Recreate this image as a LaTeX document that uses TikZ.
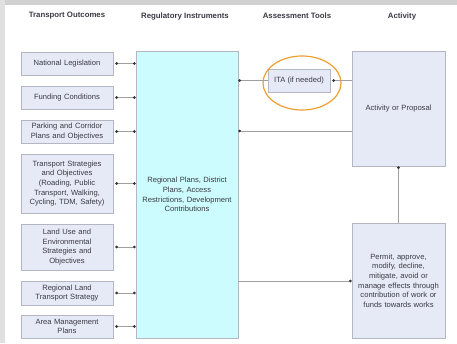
\documentclass[tikz,border=0pt]{standalone}
\usepackage{fontspec}
\setmainfont{Liberation Sans}
\usetikzlibrary{arrows.meta,shapes.geometric}
\definecolor{boxfill}{HTML}{E6EAF6}
\definecolor{boxline}{HTML}{B4B6C2}
\definecolor{regfill}{HTML}{CCFCFD}
\definecolor{txt}{HTML}{3A3A44}
\definecolor{lin}{HTML}{A0A0A0}
\definecolor{orng}{HTML}{F0A030}
\tikzset{
  box/.style={draw=boxline, fill=boxfill, line width=0.8pt, text=txt, align=center,
    font=\fontsize{7.6}{9.6}\selectfont, inner sep=1pt},
  hdr/.style={font=\bfseries\fontsize{7.8}{9}\selectfont, text=txt},
  conn/.style={draw=lin, line width=0.9pt},
  dotb/.style={-{Circle[length=2.6pt,fill=black!80,color=black!80]}},
  dotboth/.style={{Circle[length=2.6pt,fill=black!80,color=black!80]}-{Circle[length=2.6pt,fill=black!80,color=black!80]}},
}
\newcommand{\lbox}[4]{\node[box, minimum width=92pt, minimum height=#3pt, text width=90pt] (#1) at (67,#2) {#4};}
\begin{document}
\begin{tikzpicture}[x=1pt,y=-1pt]
\useasboundingbox (0,0) rectangle (457,343);
\fill[white] (0,0) rectangle (457,343);
\fill[black!18] (0,0) rectangle (457,5);
\fill[black!12] (0,0) rectangle (5,343);
% headers
\node[hdr] (h1) at (67,16) {Transport Outcomes};
\node[hdr] (h2) at (185,16) {Regulatory Instruments};
\node[hdr] (h3) at (297,16) {Assessment Tools};
\node[hdr] (h4) at (402,16) {Activity};
% left boxes
\lbox{n1}{63.5}{23}{National Legislation}
\lbox{n2}{97.5}{23}{Funding Conditions}
\lbox{n3}{131.5}{23}{Parking and Corridor\\Plans and Objectives}
\lbox{n4}{183.5}{59}{Transport Strategies\\and Objectives\\(Roading, Public\\Transport, Walking,\\Cycling, TDM, Safety)}
\lbox{n5}{247}{46}{Land Use and\\Environmental\\Strategies and\\Objectives}
\lbox{n6}{293}{24}{Regional Land\\Transport Strategy}
\lbox{n7}{326.5}{23}{Area Management\\Plans}
% regulatory
\node[box, fill=regfill, minimum width=102pt, minimum height=287pt, text width=100pt] (reg) at (187,194.5)
  {Regional Plans, District\\Plans, Access\\Restrictions, Development\\Contributions};
% ITA
\node[box, minimum width=62pt, minimum height=23pt] (ita) at (299,80.5) {ITA (if needed)};
\draw[orng, line width=1.2pt] (302,83) ellipse [x radius=39, y radius=27];
% activity
\node[box, minimum width=93pt, minimum height=115pt, text width=91pt] (act) at (398.5,108.5) {Activity or Proposal};
\node[box, minimum width=93pt, minimum height=115pt, text width=91pt] (perm) at (398.5,280.5)
  {Permit, approve,\\modify, decline,\\mitigate, avoid or\\manage effects through\\contribution of work or\\funds towards works};
% left connectors
\foreach \n in {n1,n2,n3,n4,n5,n6,n7}{
  \draw[conn, dotboth] ([xshift=2pt]\n.east) -- (\n.east -| reg.west);
}
% right connectors
\draw[conn, dotb] (act.west |- ita.east) -- ([xshift=2pt]ita.east);
\draw[conn, dotb] (ita.west) -- (ita.west -| reg.east);
\draw[conn, dotb] (act.west |- 0,131) -- (reg.east |- 0,131);
\draw[conn, dotb] (perm.north) -- (act.south);
\draw[conn, dotb] (reg.east |- 0,281) -- (perm.west |- 0,281);
\end{tikzpicture}
\end{document}
